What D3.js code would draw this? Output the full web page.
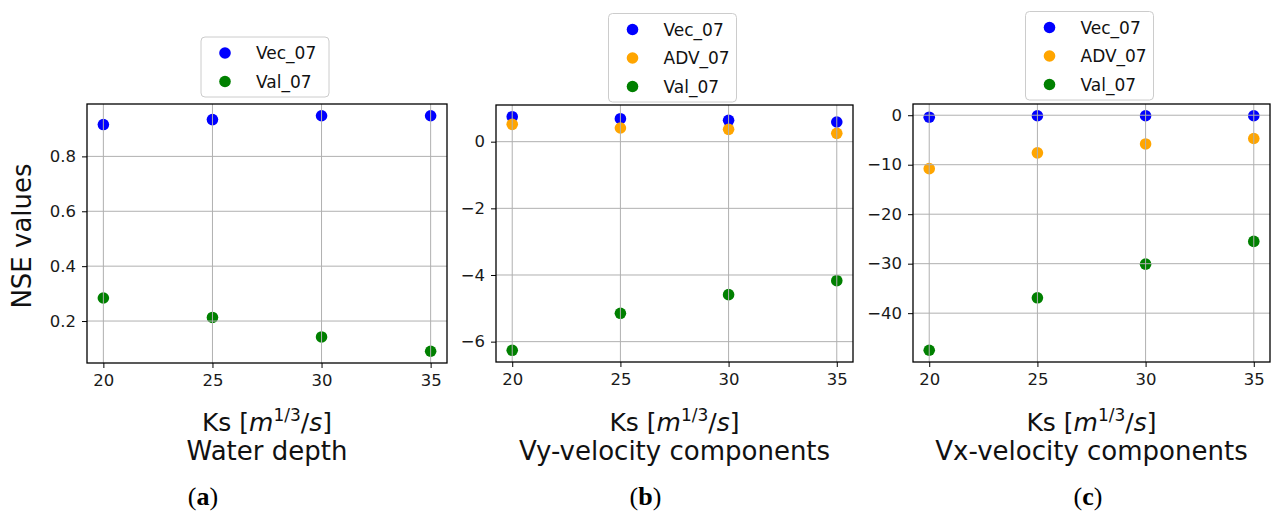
<!DOCTYPE html>
<html>
<head>
<meta charset="utf-8">
<script src="https://cdn.jsdelivr.net/npm/d3@7"></script>
<style>
  body { margin: 0; background: #fff; }
  svg { display: block; font-family: "DejaVu Sans", sans-serif; }
  .grid line { stroke: #b0b0b0; stroke-width: 1; }
  .tick text { fill: #1a1a1a; }
</style>
</head>
<body>
<svg id="chart" width="1272" height="513"></svg>
<script>
// values
var ks = [20, 25, 30, 35];

var depthVec = [0.916, 0.934, 0.948, 0.948];
var depthVal = [0.284, 0.213, 0.142, 0.090];

var vyVec = [0.75, 0.69, 0.64, 0.59];
var vyAdv = [0.52, 0.41, 0.37, 0.25];
var vyVal = [-6.26, -5.15, -4.59, -4.17];

var vxVec = [-0.4, -0.1, -0.1, -0.1];
var vxAdv = [-10.8, -7.6, -5.8, -4.7];
var vxVal = [-47.5, -36.9, -30.1, -25.5];

var xTicks = [20, 25, 30, 35];
var yTicksA = [0.2, 0.4, 0.6, 0.8];
var yTicksB = [-6, -4, -2, 0];
var yTicksC = [-40, -30, -20, -10, 0];

var seriesNames = ["Vec_07", "ADV_07", "Val_07"];
var panelTitles = ["Water depth", "Vy-velocity components", "Vx-velocity components"];
var panelLetters = ["a", "b", "c"];
var yLabel = "NSE values";

var colors = {"Vec_07": "#0000ff", "ADV_07": "#ffa500", "Val_07": "#008000"};

var panels = [
    {box: {left: 87, right: 447, top: 104, bottom: 363}, legendBottom: 97,
     yTicks: yTicksA, tickFmt: d3.format(".1f"),
     series: [{name: "Vec_07", values: depthVec}, {name: "Val_07", values: depthVal}]},
    {box: {left: 496, right: 853, top: 105, bottom: 362}, legendBottom: 102,
     yTicks: yTicksB, tickFmt: d3.format("d"),
     series: [{name: "Vec_07", values: vyVec}, {name: "ADV_07", values: vyAdv}, {name: "Val_07", values: vyVal}]},
    {box: {left: 913, right: 1270, top: 104, bottom: 362}, legendBottom: 100,
     yTicks: yTicksC, tickFmt: d3.format("d"),
     series: [{name: "Vec_07", values: vxVec}, {name: "ADV_07", values: vxAdv}, {name: "Val_07", values: vxVal}]}
];

var svg = d3.select("#chart");
var r = 5.8;

// matplotlib style 5% margins
function padded(ext) {
    var p = (ext[1] - ext[0]) * 0.05;
    return [ext[0] - p, ext[1] + p];
}

panels.forEach(function(p, i) {
    var b = p.box;
    var all = [];
    p.series.forEach(function(s) { all = all.concat(s.values); });

    var x = d3.scaleLinear().domain(padded(d3.extent(ks))).range([b.left, b.right]);
    var y = d3.scaleLinear().domain(padded(d3.extent(all))).range([b.bottom, b.top]);

    var g = svg.append("g").attr("class", "panel");

    // points (under the grid, like matplotlib)
    p.series.forEach(function(s) {
        g.append("g").selectAll("circle")
            .data(s.values)
            .enter().append("circle")
            .attr("cx", function(d, j) { return x(ks[j]); })
            .attr("cy", function(d) { return y(d); })
            .attr("r", r)
            .attr("fill", colors[s.name]);
    });

    // grid
    var grid = g.append("g").attr("class", "grid");
    grid.selectAll("line.v").data(xTicks).enter().append("line")
        .attr("x1", x).attr("x2", x).attr("y1", b.top).attr("y2", b.bottom);
    grid.selectAll("line.h").data(p.yTicks).enter().append("line")
        .attr("y1", y).attr("y2", y).attr("x1", b.left).attr("x2", b.right);

    // axes
    g.append("g")
        .attr("transform", "translate(0," + b.bottom + ")")
        .call(d3.axisBottom(x).tickValues(xTicks).tickSize(5).tickPadding(6))
        .call(function(a) {
            a.select(".domain").remove();
            a.selectAll("text").attr("font-size", 16.5).attr("font-family", "DejaVu Sans");
            a.selectAll("line").attr("stroke", "#000");
        });

    g.append("g")
        .attr("transform", "translate(" + b.left + ",0)")
        .call(d3.axisLeft(y).tickValues(p.yTicks).tickFormat(p.tickFmt).tickSize(5).tickPadding(6))
        .call(function(a) {
            a.select(".domain").remove();
            a.selectAll("text").attr("font-size", 16.5).attr("font-family", "DejaVu Sans");
            a.selectAll("line").attr("stroke", "#000");
        });

    // frame
    g.append("rect")
        .attr("x", b.left).attr("y", b.top)
        .attr("width", b.right - b.left).attr("height", b.bottom - b.top)
        .attr("fill", "none").attr("stroke", "#000").attr("stroke-width", 1.3);

    var cx = (b.left + b.right) / 2;

    // x label: Ks [m^{1/3}/s]
    var xl = g.append("text")
        .attr("x", cx).attr("y", 431)
        .attr("text-anchor", "middle")
        .attr("font-size", 25)
        .attr("fill", "#111");
    xl.append("tspan").text("Ks [");
    xl.append("tspan").attr("font-style", "italic").text("m");
    xl.append("tspan").attr("font-size", 17).attr("dy", -10).text("1/3");
    xl.append("tspan").attr("dy", 10).text("/");
    xl.append("tspan").attr("font-style", "italic").text("s");
    xl.append("tspan").text("]");

    g.append("text")
        .attr("x", cx).attr("y", 460)
        .attr("text-anchor", "middle")
        .attr("font-size", 26)
        .attr("fill", "#111")
        .text(panelTitles[i]);

    // panel letter
    var lt = g.append("text")
        .attr("x", 203 + i * 442.5).attr("y", 505)
        .attr("text-anchor", "middle")
        .attr("font-family", "Liberation Serif, serif")
        .attr("font-size", 26)
        .attr("fill", "#000");
    lt.append("tspan").text("(");
    lt.append("tspan").attr("font-weight", "bold").text(panelLetters[i]);
    lt.append("tspan").text(")");

    // legend
    var n = p.series.length;
    var rowH = 28.5;
    var lh = n * rowH + 3;
    var lw = 128;
    var lg = g.append("g")
        .attr("transform", "translate(" + (cx - lw / 2 - 2) + "," + (p.legendBottom - lh) + ")");
    lg.append("rect")
        .attr("width", lw).attr("height", lh)
        .attr("rx", 4)
        .attr("fill", "#fff").attr("fill-opacity", 0.8)
        .attr("stroke", "#cccccc");
    var items = lg.selectAll("g.item").data(p.series).enter().append("g")
        .attr("class", "item")
        .attr("transform", function(d, j) { return "translate(0," + (16 + j * rowH) + ")"; });
    items.append("circle")
        .attr("cx", 24).attr("cy", 0).attr("r", r)
        .attr("fill", function(d) { return colors[d.name]; });
    items.append("text")
        .attr("x", 55).attr("y", 6)
        .attr("font-size", 17)
        .attr("fill", "#111")
        .text(function(d) { return d.name; });
});

// y label on the first panel only
svg.append("text")
    .attr("transform", "translate(31,236) rotate(-90)")
    .attr("text-anchor", "middle")
    .attr("font-size", 26)
    .attr("fill", "#111")
    .text(yLabel);
</script>
</body>
</html>
